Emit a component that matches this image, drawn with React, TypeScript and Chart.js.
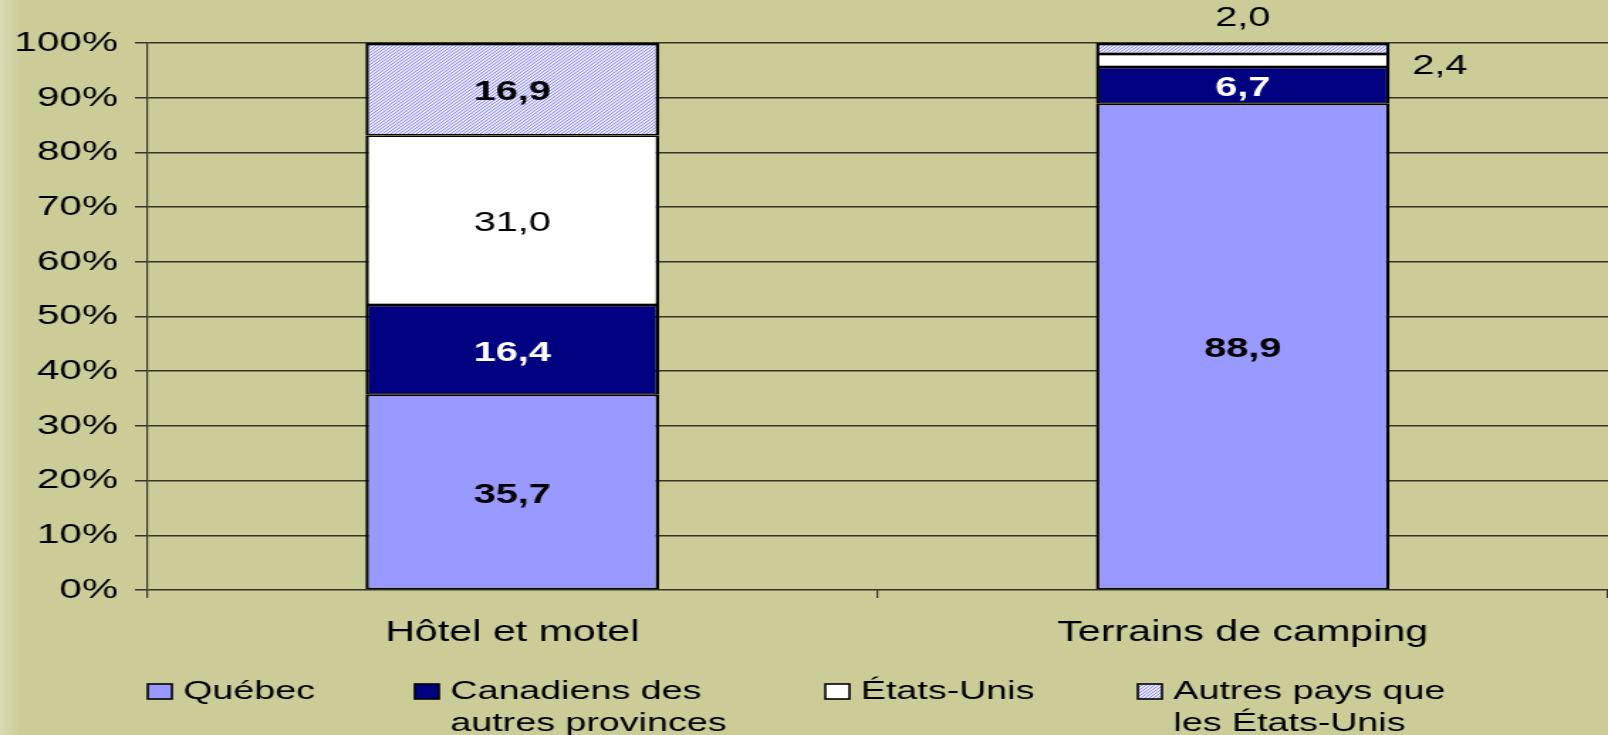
import React, { useEffect, useRef } from "react";
import { Chart, registerables } from "chart.js";

Chart.register(...registerables);

// ---- data ----
const categories = ["Hôtel et motel", "Terrains de camping"];
const seriesNames = ["Québec", "Canadiens des autres provinces", "États-Unis", "Autres pays que les États-Unis"];
const legendLines = [["Québec"], ["Canadiens des", "autres provinces"], ["États-Unis"], ["Autres pays que", "les États-Unis"]];
const quebec = [35.7, 88.9];
const canadiens = [16.4, 6.7];
const etatsUnis = [31.0, 2.4];
const autres = [16.9, 2.0];
const yTicks = [0, 10, 20, 30, 40, 50, 60, 70, 80, 90, 100];

// ---- layout / style ----
const STRETCH = 1.42;
const FULL_W = 1608;
const FULL_H = 735;
const W = Math.round(FULL_W / STRETCH);
const H = FULL_H;
const FONT = "'Liberation Sans', Arial, Helvetica, sans-serif";
const BG = "#CCCC99";
const GRID = "#35352a";

const labelColors = ["#000000", "#ffffff", "#000000", "#000000"];
const labelWeights = ["bold", "bold", "normal", "bold"];
// placement of labels that sit outside their segment: key "dataset-index"
const outsidePlacement: Record<string, string> = { "3-1": "top", "2-1": "right" };

const legendBoxX = [104, 292, 581, 801];

function makeHatch(): CanvasPattern | string {
  const n = 3;
  const c = document.createElement("canvas");
  c.width = n;
  c.height = n;
  const g = c.getContext("2d");
  if (!g) return "#ccccff";
  g.fillStyle = "#e4e4ff";
  g.fillRect(0, 0, n, n);
  g.fillStyle = "#9494f4";
  for (let x = 0; x < n; x++) {
    for (let y = 0; y < n; y++) {
      if ((x + y) % n === 0) g.fillRect(x, y, 1, 1);
    }
  }
  const p = g.createPattern(c, "repeat");
  return p || "#ccccff";
}

const fmt = (v: number) => v.toFixed(1).replace(".", ",");

const dataLabelPlugin = {
  id: "dataLabels",
  afterDatasetsDraw(chart: any) {
    const ctx = chart.ctx;
    ctx.save();
    chart.data.datasets.forEach((ds: any, di: number) => {
      const meta = chart.getDatasetMeta(di);
      meta.data.forEach((el: any, i: number) => {
        const v = ds.data[i];
        const { x, y, base, width } = el.getProps(["x", "y", "base", "width"], true);
        const place = outsidePlacement[`${di}-${i}`];
        ctx.font = `${place ? "normal" : labelWeights[di]} 28px ${FONT}`;
        ctx.fillStyle = place ? "#000000" : labelColors[di];
        ctx.textBaseline = "middle";
        const cy = (y + base) / 2 + 3;
        if (place === "top") {
          ctx.textAlign = "center";
          ctx.fillText(fmt(v), x, y - 25);
        } else if (place === "right") {
          ctx.textAlign = "left";
          ctx.fillText(fmt(v), x + width / 2 + 16, cy + 3);
        } else {
          ctx.textAlign = "center";
          ctx.fillText(fmt(v), x, cy);
        }
      });
    });
    ctx.restore();
  },
};

const legendPlugin = {
  id: "customLegend",
  afterDraw(chart: any) {
    const ctx = chart.ctx;
    ctx.save();
    chart.data.datasets.forEach((ds: any, i: number) => {
      const bx = legendBoxX[i];
      ctx.fillStyle = ds.backgroundColor;
      ctx.fillRect(bx, 684, 17, 15);
      ctx.lineWidth = 1.6;
      ctx.strokeStyle = "#000000";
      ctx.strokeRect(bx, 684, 17, 15);
      ctx.fillStyle = "#000000";
      ctx.font = `26.5px ${FONT}`;
      ctx.textAlign = "left";
      ctx.textBaseline = "alphabetic";
      legendLines[i].forEach((line, j) => {
        ctx.fillText(line, bx + 25, 699 + j * 32);
      });
    });
    ctx.restore();
  },
};

export default function App() {
  const ref = useRef<HTMLCanvasElement | null>(null);

  useEffect(() => {
    if (!ref.current) return;
    const hatch = makeHatch();
    const inner = { top: 1.5, bottom: 1.5, left: 2.4, right: 2.4 };
    const topB = { top: 2.5, bottom: 1.5, left: 2.4, right: 2.4 };
    const common = {
      borderColor: "#000000",
      borderSkipped: false as const,
      barPercentage: 0.402,
      categoryPercentage: 1,
    };
    const chart = new Chart(ref.current, {
      type: "bar",
      data: {
        labels: categories,
        datasets: [
          { label: seriesNames[0], data: quebec, backgroundColor: "#9999ff", borderWidth: inner, ...common },
          { label: seriesNames[1], data: canadiens, backgroundColor: "#000080", borderWidth: inner, ...common },
          { label: seriesNames[2], data: etatsUnis, backgroundColor: "#ffffff", borderWidth: inner, ...common },
          { label: seriesNames[3], data: autres, backgroundColor: hatch as any, borderWidth: topB, ...common },
        ],
      },
      options: {
        responsive: false,
        animation: false,
        devicePixelRatio: 1,
        layout: { padding: { top: 43, bottom: 85, left: 0, right: -3 } },
        plugins: {
          legend: { display: false },
          tooltip: { enabled: false },
          title: { display: false },
        },
        scales: {
          x: {
            stacked: true,
            offset: true,
            border: { display: false },
            grid: {
              offset: true,
              drawOnChartArea: false,
              drawTicks: true,
              tickLength: 8,
              color: GRID,
              lineWidth: 1.2,
            },
            ticks: {
              color: "#000000",
              font: { family: FONT, size: 29 },
              padding: 18,
              maxRotation: 0,
            },
            afterFit: (s: any) => {
              s.height = 60;
            },
          },
          y: {
            stacked: true,
            min: 0,
            max: 100,
            border: { display: true, color: GRID, width: 1.2 },
            grid: {
              color: GRID,
              lineWidth: 1.5,
              drawTicks: true,
              tickLength: 8.5,
            },
            afterBuildTicks: (s: any) => {
              s.ticks = yTicks.map((v) => ({ value: v }));
            },
            ticks: {
              color: "#000000",
              font: { family: FONT, size: 28.5 },
              padding: 12,
              callback: (v: any) => `${v}%`,
            },
            afterFit: (s: any) => {
              s.width = 103.5;
            },
          },
        },
      },
      plugins: [dataLabelPlugin, legendPlugin],
    });
    return () => chart.destroy();
  }, []);

  return (
    <div
      style={{
        position: "absolute",
        left: 0,
        top: 0,
        width: FULL_W,
        height: FULL_H,
        overflow: "hidden",
        background: `linear-gradient(to right, #dadab8 0px, ${BG} 20px)`,
      }}
    >
      <canvas
        ref={ref}
        width={W}
        height={H}
        style={{ width: `${FULL_W}px`, height: `${FULL_H}px`, display: "block" }}
      />
    </div>
  );
}
